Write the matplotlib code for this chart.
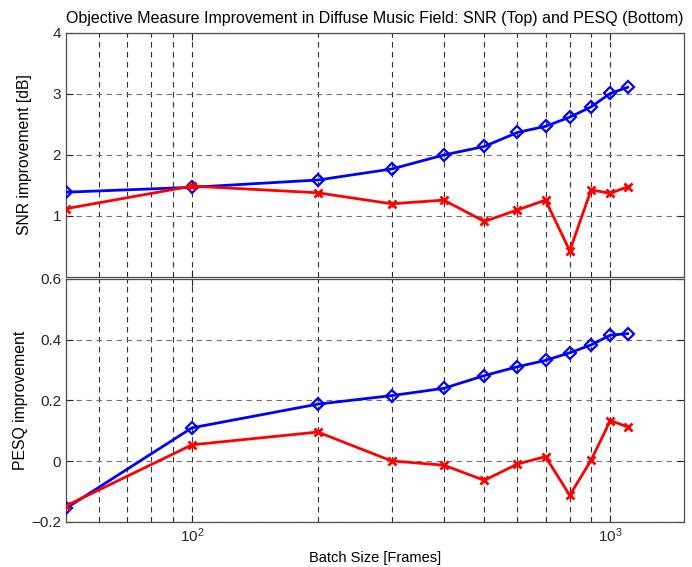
import numpy as np
import matplotlib.pyplot as plt
from matplotlib.ticker import FixedLocator, NullFormatter, LogFormatterMathtext

plt.rcParams['font.family'] = ['Liberation Sans', 'DejaVu Sans']
plt.rcParams['mathtext.fontset'] = 'custom'
plt.rcParams['mathtext.rm'] = 'Liberation Sans'

#==============================================================================
# data
#==============================================================================
batch = [50, 100, 200, 300, 400, 500, 600, 700, 800, 900, 1000, 1100]

snr_blue = [1.39, 1.47, 1.59, 1.77, 2.00, 2.14, 2.37, 2.47, 2.62, 2.79, 3.01, 3.11]
snr_red = [1.12, 1.49, 1.38, 1.20, 1.26, 0.91, 1.10, 1.26, 0.43, 1.43, 1.37, 1.48]

pesq_blue = [-0.155, 0.110, 0.188, 0.216, 0.240, 0.282, 0.311, 0.332, 0.357, 0.383, 0.415, 0.420]
pesq_red = [-0.147, 0.054, 0.096, 0.001, -0.013, -0.063, -0.009, 0.015, -0.112, 0.004, 0.134, 0.113]

title = 'Objective Measure Improvement in Diffuse Music Field: SNR (Top) and PESQ (Bottom)'

#==============================================================================
# figure
#==============================================================================
fig = plt.figure(figsize=(6.92, 5.67), dpi=100)
ax1 = fig.add_axes([0.0954, 0.5115, 0.893, 0.4303])
ax2 = fig.add_axes([0.0954, 0.0794, 0.893, 0.4286])

minor_x = [60, 70, 80, 90, 200, 300, 400, 500, 600, 700, 800, 900]

def style(ax):
    ax.set_xscale('log')
    ax.set_xlim(50, 1500)
    ax.xaxis.set_major_locator(FixedLocator([100, 1000]))
    ax.xaxis.set_minor_locator(FixedLocator(minor_x))
    ax.xaxis.set_minor_formatter(NullFormatter())
    ax.tick_params(which='both', direction='in', top=True, right=True,
                   labelsize=11, colors='0.15')
    ax.tick_params(which='major', length=5)
    ax.tick_params(which='minor', length=3)
    for s in ax.spines.values():
        s.set_color('0.3')
        s.set_linewidth(0.9)
    ax.grid(True, which='major', axis='y', linestyle=(0, (5, 4)), color='0.45', linewidth=0.8)
    ax.grid(True, which='both', axis='x', linestyle=(0, (5, 4)), color='0.2', linewidth=0.8)

def draw(ax, blue, red):
    ax.plot(batch, blue, color='#0000ff', linewidth=2, marker='D', markersize=6,
            markerfacecolor='none', markeredgewidth=1.6, zorder=3)
    ax.plot(batch, red, color='#ff0000', linewidth=2, marker='x', markersize=6,
            markeredgewidth=2, zorder=3)

# SNR (top)
style(ax1)
draw(ax1, snr_blue, snr_red)
ax1.set_ylim(0, 4)
ax1.set_yticks([1, 2, 3, 4])
ax1.xaxis.set_major_formatter(NullFormatter())
ax1.set_ylabel('SNR improvement [dB]', fontsize=11.3)
ax1.yaxis.set_label_coords(-0.055, 0.5)
ax1.set_title(title, fontsize=11.5, pad=7)

# PESQ (bottom)
style(ax2)
draw(ax2, pesq_blue, pesq_red)
ax2.set_ylim(-0.2, 0.6)
ax2.set_yticks([-0.2, 0, 0.2, 0.4, 0.6])
ax2.set_yticklabels(['\u22120.2', '0', '0.2', '0.4', '0.6'])
ax2.xaxis.set_major_formatter(LogFormatterMathtext())
ax2.set_ylabel('PESQ improvement', fontsize=11.3)
ax2.yaxis.set_label_coords(-0.061, 0.5)
ax2.set_xlabel('Batch Size [Frames]', fontsize=10.5)

fig.savefig('out.png', dpi=100)
